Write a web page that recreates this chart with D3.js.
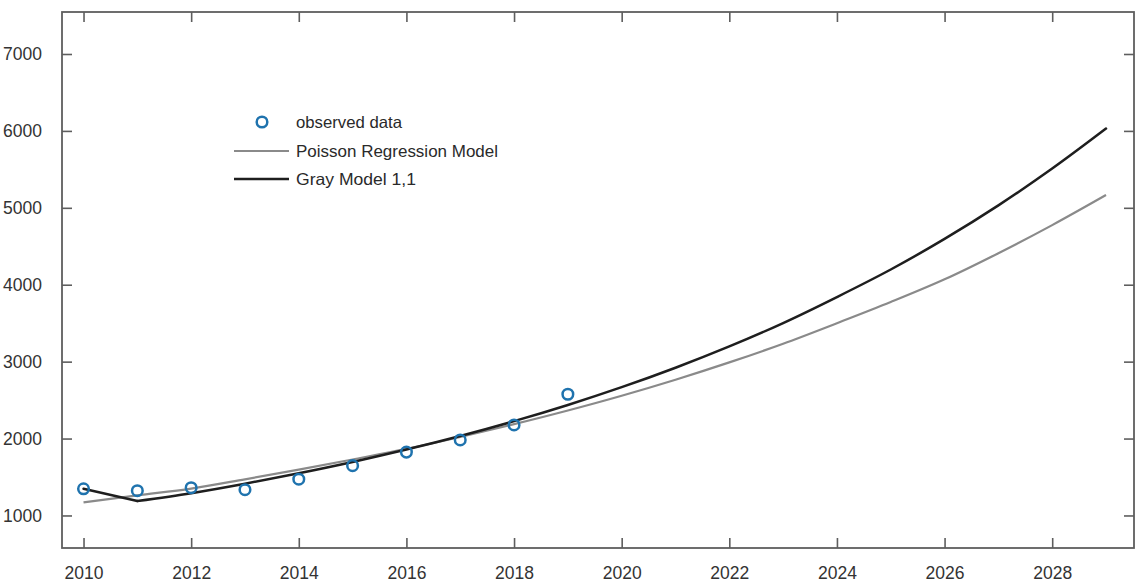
<!DOCTYPE html>
<html>
<head>
<meta charset="utf-8">
<script src="https://cdn.jsdelivr.net/npm/d3@7"></script>
<style>
  html, body { margin: 0; padding: 0; background: #fff; }
  svg { display: block; font-family: "Liberation Sans", Arial, sans-serif; }
</style>
</head>
<body>
<svg id="chart" width="1141" height="583"></svg>
<script>
// Observed yearly counts, 2010–2019
const obsYears = [2010, 2011, 2012, 2013, 2014, 2015, 2016, 2017, 2018, 2019];
const observed = [1347, 1322, 1361, 1335, 1471, 1648, 1824, 1982, 2177, 2576];

// Model fits and forecasts, 2010–2029
const modelYears = [2010, 2011, 2012, 2013, 2014, 2015, 2016, 2017, 2018, 2019,
                    2020, 2021, 2022, 2023, 2024, 2025, 2026, 2027, 2028, 2029];
const poissonModel = [1170, 1262, 1350, 1470, 1595, 1728, 1865, 2020, 2187, 2365,
                      2557, 2765, 2990, 3233, 3500, 3775, 4070, 4410, 4775, 5166];
const grayModel = [1347, 1188, 1290, 1413, 1549, 1696, 1857, 2033, 2226, 2437,
                   2668, 2921, 3198, 3502, 3840, 4198, 4596, 5032, 5510, 6030];

// Axis ticks
const xTicks = [2010, 2012, 2014, 2016, 2018, 2020, 2022, 2024, 2026, 2028];
const yTicks = [1000, 2000, 3000, 4000, 5000, 6000, 7000];

// Legend entries
const legendLabels = ["observed data", "Poisson Regression Model", "Gray Model 1,1"];

const svg = d3.select("#chart");
const plotL = 62, plotR = 1134, plotT = 12, plotB = 548;

const x = d3.scaleLinear().domain([2009.6, 2029.52]).range([plotL, plotR]);
const y = d3.scaleLinear().domain([577, 7546]).range([plotB, plotT]);

const axisColor = "#5e5e5e";
const labelColor = "#333333";
const tickLen = 10;

// Bottom axis with inward ticks and labels
const gBottom = svg.append("g").attr("transform", `translate(0,${plotB})`)
  .call(d3.axisBottom(x).tickValues(xTicks).tickFormat(d3.format("d"))
    .tickSizeInner(-tickLen).tickSizeOuter(0).tickPadding(19));
// Left axis
const gLeft = svg.append("g").attr("transform", `translate(${plotL},0)`)
  .call(d3.axisLeft(y).tickValues(yTicks).tickFormat(d3.format("d"))
    .tickSizeInner(-tickLen).tickSizeOuter(0).tickPadding(20));
// Top and right axes, ticks only
const gTop = svg.append("g").attr("transform", `translate(0,${plotT})`)
  .call(d3.axisTop(x).tickValues(xTicks).tickFormat("")
    .tickSizeInner(-tickLen).tickSizeOuter(0));
const gRight = svg.append("g").attr("transform", `translate(${plotR},0)`)
  .call(d3.axisRight(y).tickValues(yTicks).tickFormat("")
    .tickSizeInner(-tickLen).tickSizeOuter(0));

[gBottom, gLeft, gTop, gRight].forEach(g => {
  g.select(".domain").remove();
  g.selectAll(".tick line").attr("stroke", axisColor).attr("stroke-width", 1.6);
  g.selectAll(".tick text").attr("fill", labelColor)
    .style("font-size", "17.5px").style("font-family", "\"Liberation Sans\", Arial, sans-serif");
});

// Plot box
svg.append("rect")
  .attr("x", plotL).attr("y", plotT)
  .attr("width", plotR - plotL).attr("height", plotB - plotT)
  .attr("fill", "none").attr("stroke", axisColor).attr("stroke-width", 1.8);

// Model curves: pair each value with its year
const pts = vals => vals.map((v, i) => [modelYears[i], v]);
const smooth = d3.line().x(d => x(d[0])).y(d => y(d[1])).curve(d3.curveMonotoneX);
const straight = d3.line().x(d => x(d[0])).y(d => y(d[1]));

svg.append("path").datum(pts(poissonModel))
  .attr("d", smooth).attr("fill", "none")
  .attr("stroke", "#8a8a8a").attr("stroke-width", 2.2)
  .attr("stroke-linejoin", "round");

// Gray model: sharp corner at the second year, smooth growth afterwards
const gm = pts(grayModel);
svg.append("path").datum(gm.slice(0, 2))
  .attr("d", straight).attr("fill", "none")
  .attr("stroke", "#1e1e1e").attr("stroke-width", 2.5)
  .attr("stroke-linecap", "round");
svg.append("path").datum(gm.slice(1))
  .attr("d", smooth).attr("fill", "none")
  .attr("stroke", "#1e1e1e").attr("stroke-width", 2.5)
  .attr("stroke-linecap", "round");

// Observed points
const blue = "#1f73ae";
svg.append("g").selectAll("circle").data(observed).join("circle")
  .attr("cx", (d, i) => x(obsYears[i]))
  .attr("cy", d => y(d))
  .attr("r", 5.3)
  .attr("fill", "none")
  .attr("stroke", blue)
  .attr("stroke-width", 2.5);

// Legend
const legend = svg.append("g");
const legendRows = [122, 151, 179];
legend.append("circle").attr("cx", 262).attr("cy", legendRows[0]).attr("r", 5.3)
  .attr("fill", "none").attr("stroke", blue).attr("stroke-width", 2.5);
legend.append("line").attr("x1", 234).attr("x2", 289).attr("y1", legendRows[1]).attr("y2", legendRows[1])
  .attr("stroke", "#8a8a8a").attr("stroke-width", 2.2);
legend.append("line").attr("x1", 234).attr("x2", 289).attr("y1", legendRows[2]).attr("y2", legendRows[2])
  .attr("stroke", "#1e1e1e").attr("stroke-width", 2.5);
legend.selectAll("text").data(legendLabels).join("text")
  .attr("x", 296)
  .attr("y", (d, i) => legendRows[i])
  .attr("dy", "0.36em")
  .attr("fill", "#2a2a2a")
  .attr("textLength", (d, i) => [106, 202, 120][i])
  .attr("lengthAdjust", "spacingAndGlyphs")
  .style("font-size", "16.5px")
  .text(d => d);
</script>
</body>
</html>
